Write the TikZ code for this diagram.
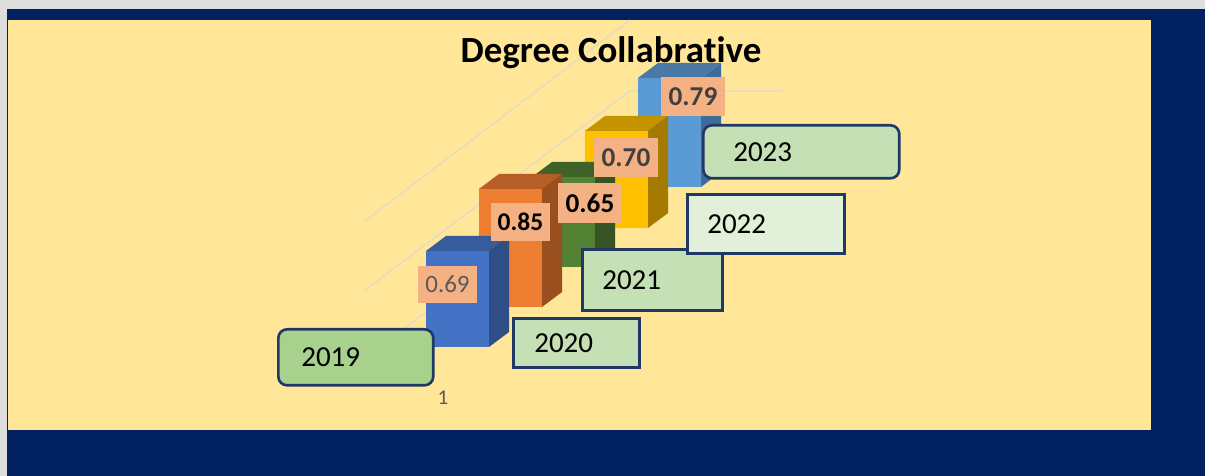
\documentclass[tikz,border=0pt]{standalone}
\usepackage{fontspec}
\setmainfont{Carlito}[Ligatures=NoCommon]
\usepackage{xcolor}
\usepackage{tikz}

\begin{document}
\begin{tikzpicture}[x=0.02cm,y=-0.02cm]
	\definecolor{dknavy}{RGB}{0,32,96}
	\definecolor{panel}{RGB}{255,230,153}
	\definecolor{framegray}{RGB}{222,222,222}
	\definecolor{gridgray}{RGB}{222,219,200}
	\definecolor{salmon}{RGB}{244,177,131}
	\definecolor{boxline}{RGB}{31,56,100}
	\definecolor{yrgreen}{RGB}{169,209,142}
	\definecolor{yrpale}{RGB}{197,224,180}
	\definecolor{yrlight}{RGB}{226,240,217}
	\definecolor{txtgray}{RGB}{89,89,89}
	\definecolor{txtdark}{RGB}{64,64,64}
	% bar colours: front, top, side
	\definecolor{b19f}{RGB}{68,114,196}  \definecolor{b19t}{RGB}{54,92,158}  \definecolor{b19s}{RGB}{46,79,134}
	\definecolor{b20f}{RGB}{237,125,49}  \definecolor{b20t}{RGB}{182,94,37}  \definecolor{b20s}{RGB}{154,80,30}
	\definecolor{b21f}{RGB}{84,130,53}   \definecolor{b21t}{RGB}{63,98,40}   \definecolor{b21s}{RGB}{54,84,36}
	\definecolor{b22f}{RGB}{255,192,0}   \definecolor{b22t}{RGB}{196,147,0}  \definecolor{b22s}{RGB}{164,123,0}
	\definecolor{b23f}{RGB}{91,155,213}  \definecolor{b23t}{RGB}{74,121,168} \definecolor{b23s}{RGB}{62,107,153}
	\tikzset{
		gridln/.style={draw=gridgray, line width=0.7pt},
		valbox/.style={
			fill=salmon, inner sep=0pt,
			minimum width=1.28cm, minimum height=0.80cm,
			font=\fontsize{15.5}{17}\selectfont\bfseries
		},
		yearbox/.style={
			draw=boxline, line width=1.5pt, anchor=north west,
			inner ysep=0pt, align=left,
			font=\fontsize{16.5}{18}\selectfont
		}
	}
	
	\useasboundingbox (0,0) rectangle (1205,476);
	
	% ======= Khung nền =======
	\fill[framegray] (0,0) rectangle (1205,476);
	\fill[dknavy] (7,9) rectangle (1205,476);
	\fill[panel] (8,20) rectangle (1151,430);
	
	% ======= Đường lưới =======
	\draw[gridln] (365,221) -- (630,20);
	\draw[gridln] (365,290) -- (630,91) -- (783,91);
	\draw[gridln] (405,328) -- (430,309);
	
	% ======= Cột 2023 =======
	\fill[b23f] (638,78) rectangle (701,187);
	\fill[b23t] (638,78) -- (658,63) -- (721,63) -- (701,78) -- cycle;
	\fill[b23s] (701,78) -- (721,63) -- (721,172) -- (701,187) -- cycle;
	
	% ======= Cột 2022 =======
	\fill[b22f] (585,131) rectangle (648,228);
	\fill[b22t] (585,131) -- (605,116) -- (668,116) -- (648,131) -- cycle;
	\fill[b22s] (648,131) -- (668,116) -- (668,213) -- (648,228) -- cycle;
	
	% ======= Cột 2021 =======
	\fill[b21f] (532,177) rectangle (595,267);
	\fill[b21t] (532,177) -- (552,162) -- (615,162) -- (595,177) -- cycle;
	\fill[b21s] (595,177) -- (615,162) -- (615,252) -- (595,267) -- cycle;
	
	% ======= Cột 2020 =======
	\fill[b20f] (479,189) rectangle (542,307);
	\fill[b20t] (479,189) -- (499,174) -- (562,174) -- (542,189) -- cycle;
	\fill[b20s] (542,189) -- (562,174) -- (562,292) -- (542,307) -- cycle;
	
	% ======= Cột 2019 =======
	\fill[b19f] (426,251) rectangle (489,347);
	\fill[b19t] (426,251) -- (446,236) -- (509,236) -- (489,251) -- cycle;
	\fill[b19s] (489,251) -- (509,236) -- (509,332) -- (489,347) -- cycle;
	
	% ======= Nhãn giá trị =======
	\node[valbox, minimum width=1.18cm, minimum height=0.74cm,
	      font=\fontsize{14.2}{16}\selectfont, text=txtgray] (v19) at (447.5,284.5) {0.69};
	\node[valbox, minimum width=1.18cm, minimum height=0.76cm,
	      font=\fontsize{14.5}{16}\selectfont\bfseries] (v20) at (520.5,222) {0.85};
	\node[valbox] (v21) at (590,203) {0.65};
	\node[valbox, text=txtdark] (v22) at (626,157.5) {0.70};
	\node[valbox, text=txtdark] (v23) at (693,96.5) {0.79};
	
	% ======= Hộp năm =======
	\node[yearbox, fill=yrgreen, rounded corners=5pt, inner xsep=0.46cm,
	      text width=2.18cm, minimum height=1.12cm] (y19) at (277,328) {2019};
	\node[yearbox, fill=yrpale, inner xsep=0.42cm,
	      text width=1.68cm, minimum height=0.98cm] (y20) at (512,317) {2020};
	\node[yearbox, fill=yrpale, inner xsep=0.40cm,
	      text width=2.00cm, minimum height=1.22cm] (y21) at (581,248) {2021};
	\node[yearbox, fill=yrlight, inner xsep=0.40cm,
	      text width=2.34cm, minimum height=1.18cm] (y22) at (686,193) {2022};
	\node[yearbox, fill=yrpale, rounded corners=5pt, inner xsep=0.60cm,
	      text width=2.72cm, minimum height=1.06cm] (y23) at (702,124) {2023};
	
	% ======= Tiêu đề và trục =======
	\node[font=\fontsize{21}{25}\selectfont\bfseries, anchor=base] (title) at (611,63) {Degree Collabrative};
	\node[font=\fontsize{12}{14}\selectfont, text=txtgray, anchor=base] (cat1) at (443,405) {1};
	
\end{tikzpicture}
\end{document}
